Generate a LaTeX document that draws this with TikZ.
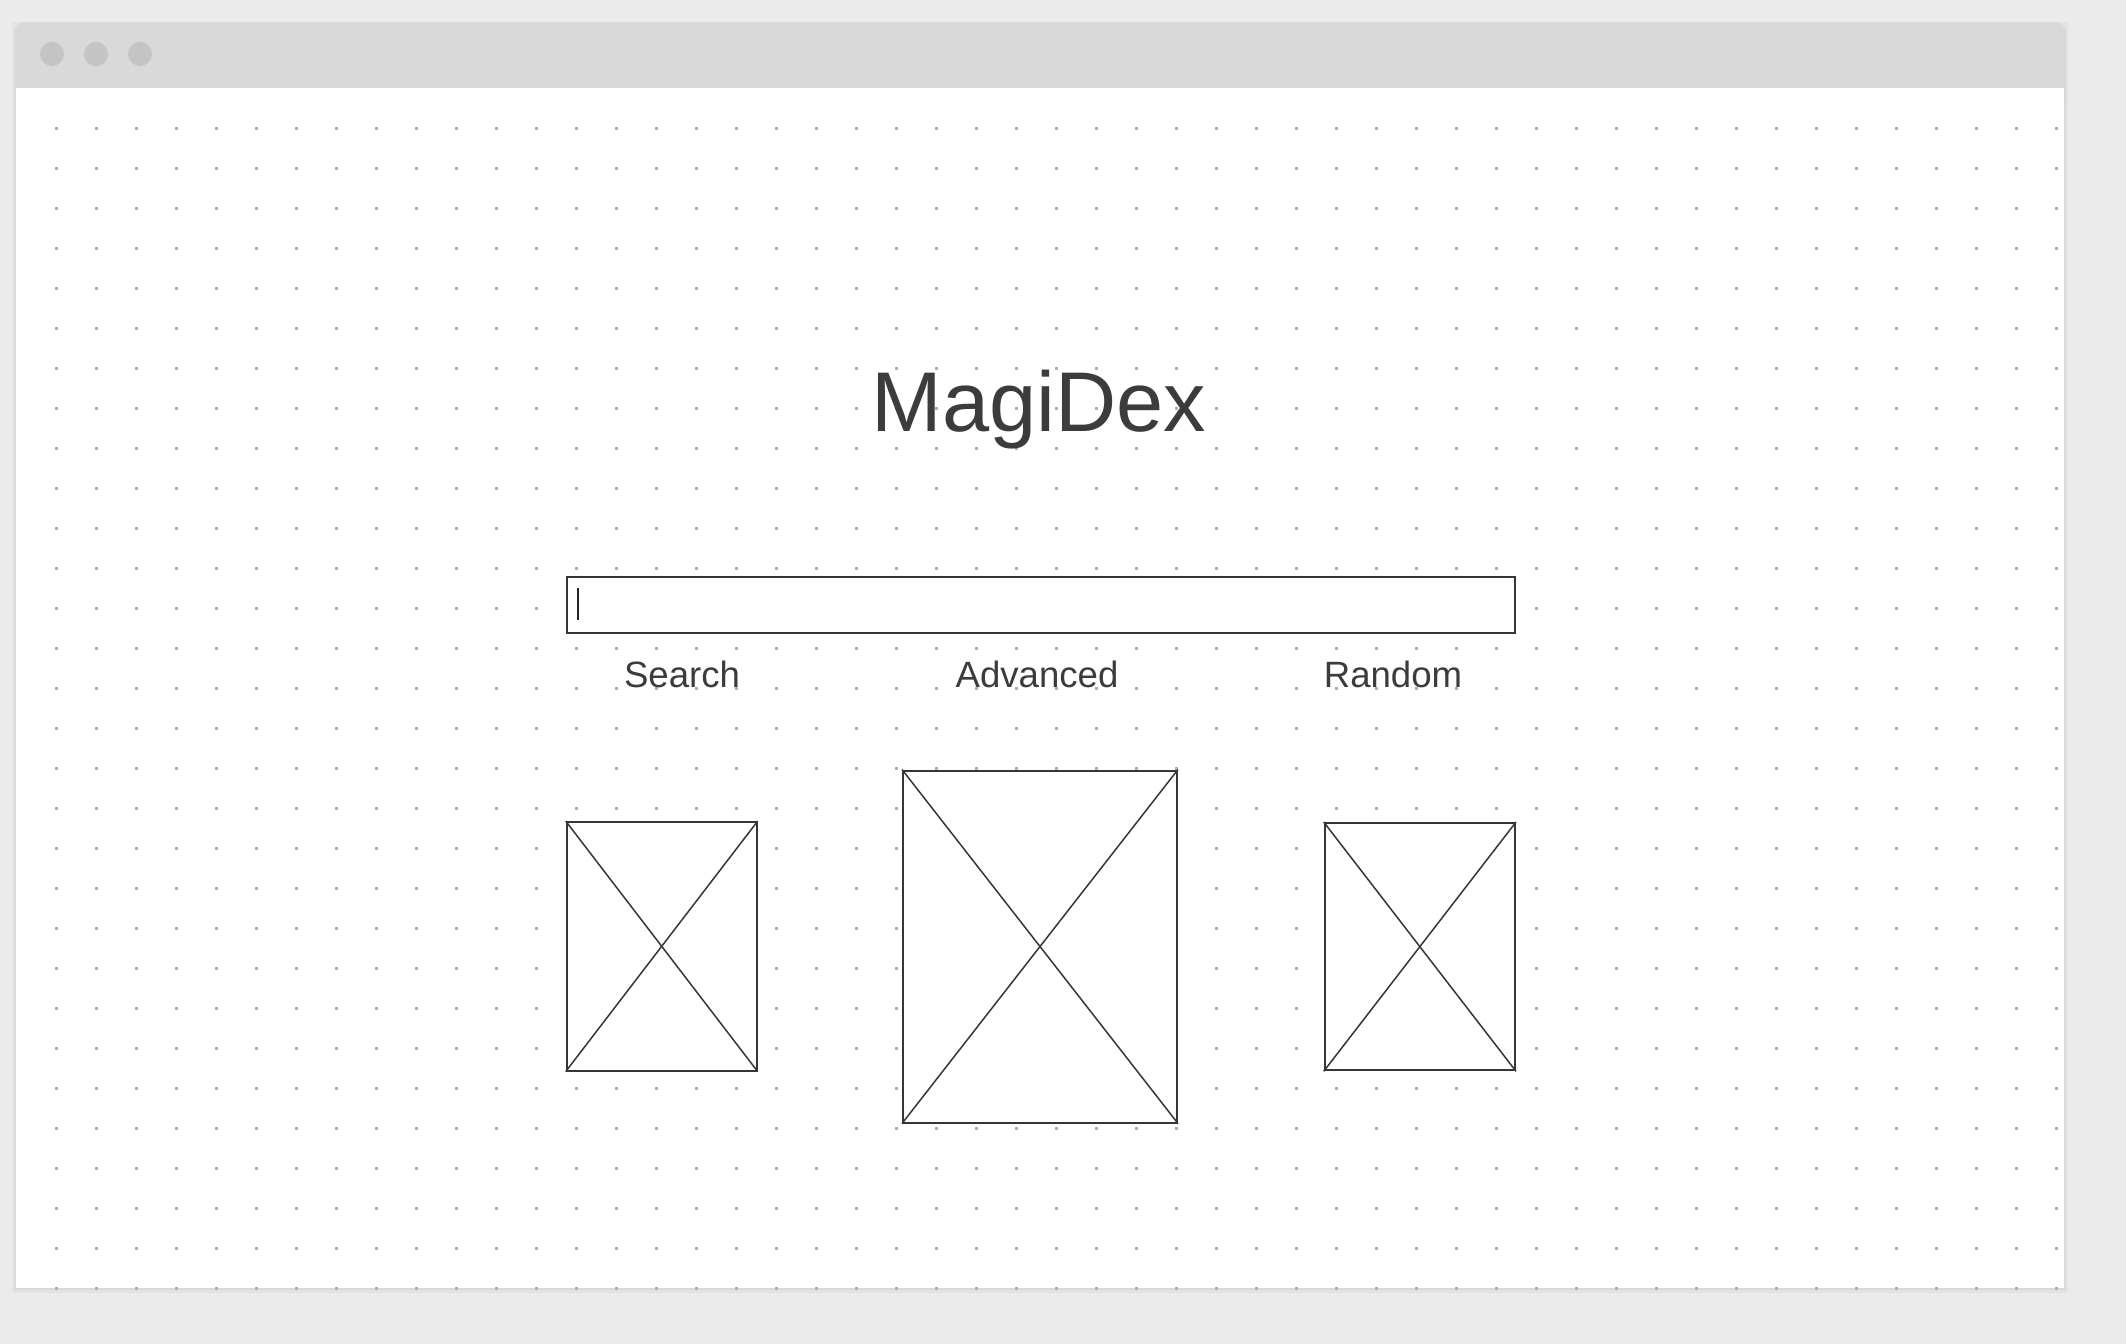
\documentclass[tikz,border=0pt]{standalone}
\usepackage{fontspec}
\setmainfont{Liberation Sans}
\definecolor{pagebg}{HTML}{EBEBEB}
\definecolor{barbg}{HTML}{D9D9D9}
\definecolor{lightbtn}{HTML}{C4C4C4}
\definecolor{dotgray}{HTML}{B0B0B0}
\definecolor{ink}{HTML}{3C3C3C}
\definecolor{stroke}{HTML}{363636}
\tikzset{
  imgbox/.style={draw=stroke, line width=1pt, fill=white, inner sep=0pt, rectangle},
  cross/.style={draw=stroke, line width=0.75pt},
  label/.style={text=ink, anchor=base, inner sep=0pt, font=\fontsize{18.3}{22}\selectfont},
  winbtn/.style={fill=lightbtn, draw=none},
}
\begin{document}
\begin{tikzpicture}[x=0.5pt, y=-0.5pt]
  \useasboundingbox (0,0) rectangle (2126,1344);
  \fill[pagebg] (0,0) rectangle (2126,1344);
  % window frame
  \fill[black, opacity=0.03] (12,22) rectangle (2068,1293);
  \fill[barbg, rounded corners=6pt] (14,22) rectangle (2066,110);
  \fill[barbg] (14,80) rectangle (2066,1290);
  \fill[white] (16,88) rectangle (2064,1288);
  % traffic lights
  \fill[winbtn] (52,54) circle (12);
  \fill[winbtn] (96,54) circle (12);
  \fill[winbtn] (140,54) circle (12);
  % dot grid
  \foreach \i in {0,...,50} {
    \foreach \j in {0,...,29} {
      \fill[dotgray] ({56.7+40*\i-1.25},{128.3+40*\j-1.25}) rectangle ++(2.5,2.5);
    }
  }
  % title
  \node[text=ink, anchor=base, inner sep=0pt, font=\fontsize{42.4}{50}\selectfont] (title) at (1039,431.7) {MagiDex};
  % search box
  \node[imgbox, minimum width=474.15pt, minimum height=28pt] (searchbox) at (1040.85,604.7) {};
  \coordinate (curtop) at (577.7,588);
  \coordinate (curbot) at (577.7,620);
  \draw[line width=1pt, color=black!85] (curtop) -- (curbot);
  % labels
  \node[label] (search) at (682,687) {Search};
  \node[label] (advanced) at (1037,687) {Advanced};
  \node[label] (random) at (1393,687) {Random};
  % image placeholders
  \node[imgbox, minimum width=95pt, minimum height=124.25pt] (imgL) at (661.7,946.3) {};
  \draw[cross] (imgL.north west) -- (imgL.south east);
  \draw[cross] (imgL.north east) -- (imgL.south west);
  \node[imgbox, minimum width=137pt, minimum height=176pt] (imgM) at (1040,946.5) {};
  \draw[cross] (imgM.north west) -- (imgM.south east);
  \draw[cross] (imgM.north east) -- (imgM.south west);
  \node[imgbox, minimum width=95.15pt, minimum height=123.65pt] (imgR) at (1419.85,946.65) {};
  \draw[cross] (imgR.north west) -- (imgR.south east);
  \draw[cross] (imgR.north east) -- (imgR.south west);
\end{tikzpicture}
\end{document}
